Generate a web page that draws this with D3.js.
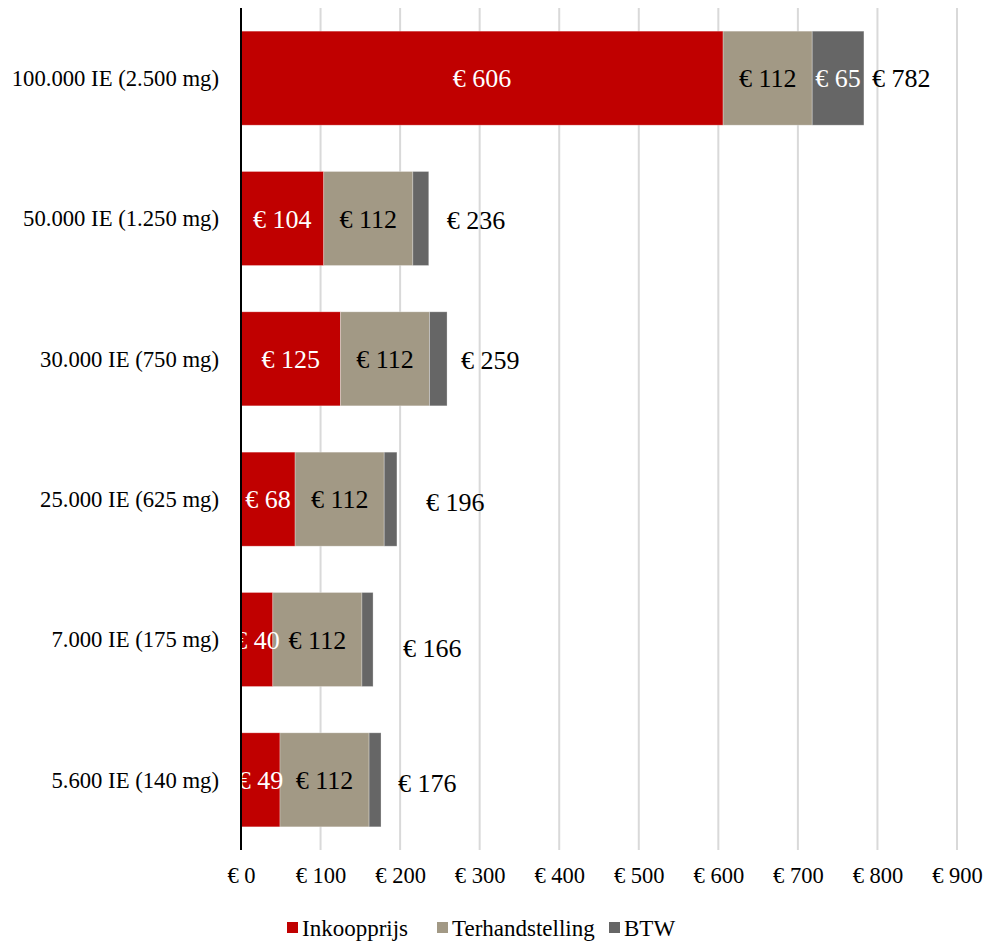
<!DOCTYPE html>
<html><head><meta charset="utf-8">
<script src="https://cdn.jsdelivr.net/npm/d3@7"></script>
<style>body{margin:0;background:#fff;} text{font-family:"Liberation Serif","Times New Roman",serif;}</style>
</head><body>
<svg id="chart" width="983" height="942"></svg>
<script>
const categories = ["100.000 IE (2.500 mg)","50.000 IE (1.250 mg)","30.000 IE (750 mg)","25.000 IE (625 mg)","7.000 IE (175 mg)","5.600 IE (140 mg)"];
const seriesNames = ["Inkoopprijs","Terhandstelling","BTW"];
const inkoopprijs = [606,104,125,68,40,49];
const terhandstelling = [112,112,112,112,112,112];
const btw = [65,20,22,16,14,15];
const totals = [782,236,259,196,166,176];
const showBtwLabel = [true,false,false,false,false,false];
const xTicks = [0,100,200,300,400,500,600,700,800,900];
// layout tweaks for total labels (pixels)
const totalDx = [8,18,14,29,30,17];
const totalDy = [0,1,1,3,8,3];

const colors = ["#C00000","#A29985","#666666"];
const labelColors = ["#ffffff","#000000","#ffffff"];
const svg = d3.select("#chart");
const mLeft = 241, mRight = 957, mTop = 8, mBottom = 850;
const x = d3.scaleLinear().domain([0,900]).range([mLeft,mRight]);
const y = d3.scaleBand().domain(categories).range([mTop,mBottom]).paddingInner(0.33).paddingOuter(0.165);

// grid
svg.append("g").selectAll("line").data(xTicks.filter(d=>d>0)).join("line")
  .attr("x1",d=>x(d)).attr("x2",d=>x(d)).attr("y1",mTop).attr("y2",mBottom)
  .attr("stroke","#d9d9d9").attr("stroke-width",2);

const rows = categories.map((c,i)=>({c,i,vals:[inkoopprijs[i],terhandstelling[i],btw[i]]}));
const segs = [];
rows.forEach(r=>{let acc=0; r.vals.forEach((v,s)=>{segs.push({c:r.c,i:r.i,s,v,x0:acc,x1:acc+v}); acc+=v;});});

svg.append("g").selectAll("rect").data(segs).join("rect")
  .attr("x",d=>x(d.x0)).attr("width",d=>x(d.x1)-x(d.x0))
  .attr("y",d=>y(d.c)).attr("height",y.bandwidth())
  .attr("fill",d=>colors[d.s]).attr("stroke","rgba(255,255,255,0.35)").attr("stroke-width",0.8);

svg.append("g").selectAll("text").data(segs.filter(d=>d.s<2 || showBtwLabel[d.i])).join("text")
  .attr("x",d=>(x(d.x0)+x(d.x1))/2).attr("y",d=>y(d.c)+y.bandwidth()/2)
  .attr("dy","0.35em").attr("text-anchor","middle")
  .attr("font-size",26).attr("fill",d=>labelColors[d.s])
  .text(d=>"€ "+d.v);

// axis line
svg.append("line").attr("x1",mLeft).attr("x2",mLeft).attr("y1",mTop).attr("y2",mBottom)
  .attr("stroke","#000").attr("stroke-width",2);

// totals
svg.append("g").selectAll("text").data(rows).join("text")
  .attr("x",d=>x(d3.sum(d.vals))+totalDx[d.i]).attr("y",d=>y(d.c)+y.bandwidth()/2+totalDy[d.i])
  .attr("dy","0.35em").attr("font-size",26).attr("fill","#000")
  .text(d=>"€ "+totals[d.i]);

// category labels
svg.append("g").selectAll("text").data(categories).join("text")
  .attr("x",219).attr("y",d=>y(d)+y.bandwidth()/2).attr("dy","0.35em")
  .attr("text-anchor","end").attr("font-size",22.7).attr("fill","#000").text(d=>d);

// x tick labels
const xAxis = d3.axisBottom(x).tickValues(xTicks).tickFormat(d=>"€ "+d).tickSize(0).tickPadding(0);
const ax = svg.append("g").attr("transform",`translate(0,${mBottom})`).call(xAxis);
ax.select(".domain").remove();
ax.selectAll("text").attr("font-size",22.5).attr("fill","#000").attr("dy",null).attr("y",33)
  .style("font-family",'"Liberation Serif","Times New Roman",serif');

// legend
const legendX = [287,437,609];
const lg = svg.append("g").selectAll("g").data(seriesNames).join("g")
  .attr("transform",(d,i)=>`translate(${legendX[i]},922)`);
lg.append("rect").attr("width",11).attr("height",11).attr("fill",(d,i)=>colors[i]);
lg.append("text").attr("x",15).attr("y",6).attr("dy","0.35em").attr("font-size",23).attr("fill","#000").text(d=>d);
</script>
</body></html>
